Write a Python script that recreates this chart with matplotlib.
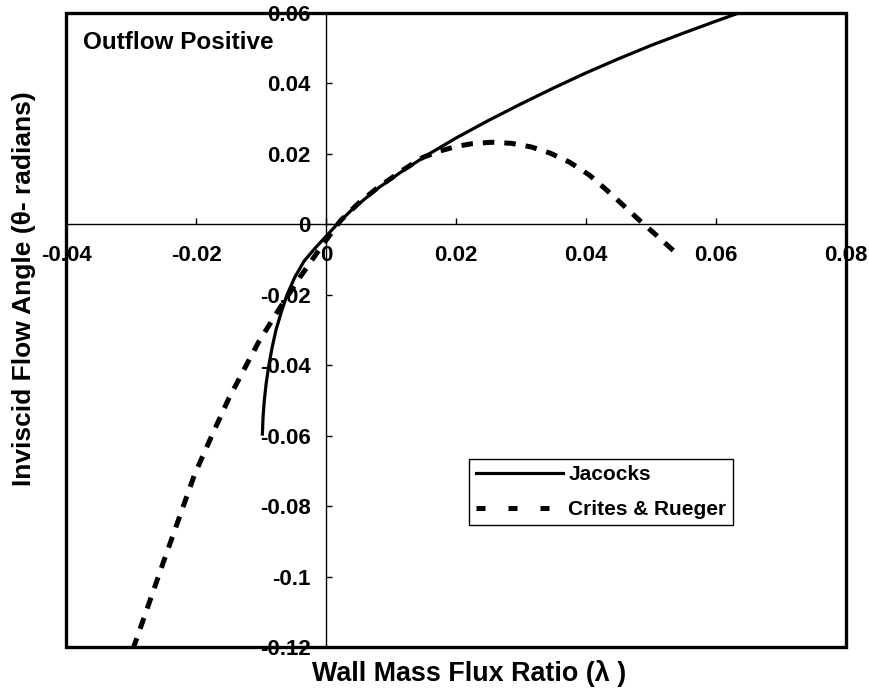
import matplotlib
matplotlib.use("Agg")
import matplotlib.pyplot as plt
from matplotlib.lines import Line2D
from matplotlib.patches import Rectangle
from matplotlib.ticker import FixedLocator, FuncFormatter

plt.rcParams['font.family'] = ['Liberation Sans', 'DejaVu Sans']
plt.rcParams['axes.unicode_minus'] = False

# inviscid flow angle vs wall mass flux ratio
jacocks_lam = [-0.0098, -0.0097, -0.0095, -0.0092, -0.0088, -0.0083, -0.0077, -0.0069,
               -0.0060, -0.0048, -0.0034, -0.0018, 0.0, 0.0017, 0.0040, 0.0078,
               0.0115, 0.0155, 0.0200, 0.0250, 0.0300, 0.0350, 0.0400, 0.0450,
               0.0500, 0.0550, 0.0600, 0.0635]
jacocks_theta = [-0.060, -0.055, -0.050, -0.045, -0.040, -0.035, -0.030, -0.025,
                 -0.020, -0.015, -0.0105, -0.0070, -0.0034, 0.0, 0.0042, 0.0100,
                 0.0148, 0.0196, 0.0245, 0.0295, 0.0342, 0.0387, 0.0430, 0.0470,
                 0.0508, 0.0543, 0.0577, 0.0600]

crites_lam = [-0.0297, -0.0250, -0.0202, -0.0176, -0.0150, -0.0127, -0.0104, -0.0072,
              -0.0040, -0.0009, 0.0022, 0.0050, 0.0078, 0.0118, 0.0149, 0.0175,
              0.0200, 0.0225, 0.0255, 0.0285, 0.0315, 0.0345, 0.0375, 0.0405,
              0.0430, 0.0455, 0.0480, 0.0510, 0.0537]
crites_theta = [-0.1206, -0.0958, -0.0709, -0.0601, -0.0496, -0.0415, -0.0335, -0.0240,
                -0.0150, -0.0068, 0.0010, 0.0060, 0.0102, 0.0154, 0.0190, 0.0208,
                0.0221, 0.0229, 0.0233, 0.0230, 0.0220, 0.0202, 0.0176, 0.0140,
                0.0100, 0.0058, 0.0015, -0.0034, -0.0079]

xticks = [-0.04, -0.02, 0.0, 0.02, 0.04, 0.06, 0.08]
yticks = [-0.12, -0.10, -0.08, -0.06, -0.04, -0.02, 0.0, 0.02, 0.04, 0.06]

fig = plt.figure(figsize=(8.69, 6.91), dpi=100)
ax = fig.add_axes([0.0760, 0.0637, 0.8976, 0.9175])

ax.plot(jacocks_lam, jacocks_theta, color='black', lw=2.3, solid_capstyle='butt',
        solid_joinstyle='round', zorder=3)
ax.plot(crites_lam, crites_theta, color='black', lw=3.6, dashes=(2.3, 2.0),
        dash_capstyle='butt', zorder=4)

ax.set_xlim(-0.04, 0.08)
ax.set_ylim(-0.12, 0.06)

# axes cross at the origin, outer box drawn separately
for side in ['left', 'bottom']:
    ax.spines[side].set_position(('data', 0))
    ax.spines[side].set_linewidth(1.0)
for side in ['top', 'right']:
    ax.spines[side].set_visible(False)
ax.add_patch(Rectangle((0, 0), 1, 1, transform=ax.transAxes, fill=False,
                       lw=2.4, edgecolor='black', clip_on=False, zorder=5))

fmt = FuncFormatter(lambda v, pos: '%g' % round(v, 4))
ax.xaxis.set_major_locator(FixedLocator(xticks))
ax.yaxis.set_major_locator(FixedLocator(yticks))
ax.xaxis.set_major_formatter(fmt)
ax.yaxis.set_major_formatter(fmt)
ax.tick_params(axis='x', direction='in', length=4, width=1, pad=15,
               labelsize=16)
ax.tick_params(axis='y', direction='in', length=4, width=1, pad=11,
               labelsize=16)
for lab in ax.get_xticklabels() + ax.get_yticklabels():
    lab.set_fontweight('bold')

ax.text(0.022, 0.953, 'Outflow Positive', transform=ax.transAxes,
        fontsize=17.5, fontweight='bold', ha='left', va='center')

handles = [Line2D([], [], color='black', lw=2.3),
           Line2D([], [], color='black', lw=3.6, dashes=(1.8, 4.6))]
leg = ax.legend(handles, ['Jacocks', 'Crites & Rueger'],
                loc='upper left', bbox_to_anchor=(0.517, 0.2965),
                prop={'size': 15, 'weight': 'bold'}, handlelength=4.2,
                handletextpad=0.25, borderpad=0.3, labelspacing=0.75,
                fancybox=False, framealpha=1, borderaxespad=0)
leg.get_frame().set_edgecolor('black')
leg.get_frame().set_linewidth(1.0)

fig.text(0.5397, 0.026, 'Wall Mass Flux Ratio (λ )', fontsize=19.4,
         fontweight='bold', ha='center', va='center')
fig.text(0.0276, 0.583, 'Inviscid Flow Angle (θ- radians)', fontsize=19,
         fontweight='bold', ha='center', va='center', rotation=90)

fig.savefig('out.png', dpi=100)
